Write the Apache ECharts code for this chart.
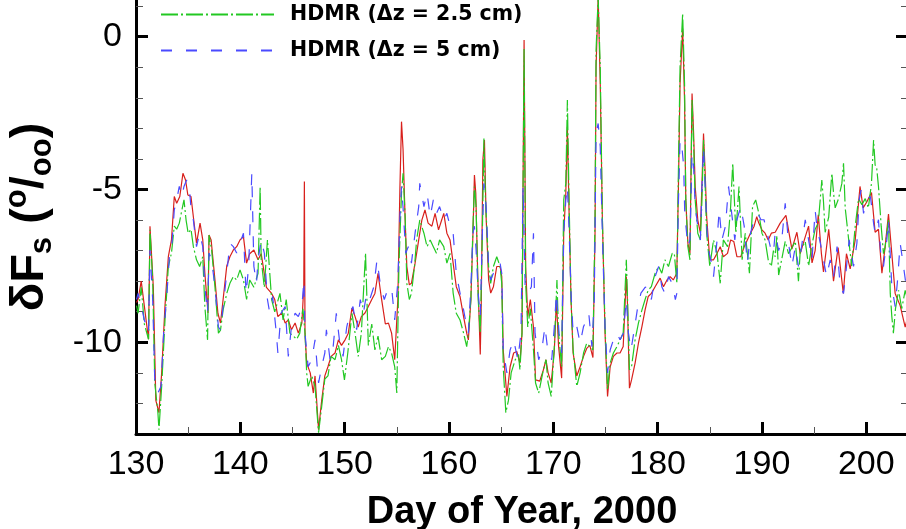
<!DOCTYPE html>
<html>
<head>
<meta charset="utf-8">
<script src="https://cdn.jsdelivr.net/npm/echarts@6/dist/echarts.min.js"></script>
<style>html,body{margin:0;padding:0;background:#fff;}#c{width:906px;height:529px;}</style>
</head>
<body>
<div id="c"></div>
<script>
// ---- data (day of year, delta Fs per mil) ----
const xTickLabels = [130, 140, 150, 160, 170, 180, 190, 200];
const yTickLabels = [-10, -5, 0];
const yMinorTicks = [-12, -11, -9, -8, -7, -6, -4, -3, -2, -1, 1];

const redDays = [130.05,130.2,130.5,131.2,131.34,131.66,131.9,132.2,132.46,132.78,133.1,133.4,133.67,133.9,134.2,134.5,134.75,134.97,135.27,135.5,135.8,136.14,136.4,136.6,136.9,137.0,137.2,137.57,137.85,138.1,138.35,138.7,139.0,139.33,139.65,139.97,140.3,140.6,140.9,141.3,141.7,142.0,142.5,143.0,143.3,143.6,143.97,144.3,144.6,144.9,145.25,145.56,145.9,146.08,146.14,146.2,146.36,146.7,147.0,147.16,147.5,147.8,148.1,148.4,148.7,149.08,149.4,149.7,150.04,150.35,150.7,151.0,151.3,151.6,151.95,152.27,152.6,152.9,153.2,153.5,153.9,154.2,154.5,154.8,155.1,155.3,155.45,155.6,155.8,155.96,156.2,156.4,156.75,157.1,157.4,157.7,158.0,158.36,158.67,159.0,159.3,159.5,159.8,160.1,160.4,160.7,161.06,161.4,161.7,161.86,162.1,162.3,162.44,162.57,162.76,163.0,163.1,163.25,163.4,163.56,163.8,164.0,164.26,164.58,164.9,165.06,165.2,165.55,165.86,166.2,166.5,166.8,167.0,167.2,167.35,167.55,167.8,168.1,168.3,168.7,169.05,169.3,169.5,169.8,170.1,170.3,170.5,170.8,171.0,171.2,171.35,171.5,171.7,171.9,172.25,172.57,172.9,173.2,173.5,173.8,174.0,174.1,174.3,174.5,174.7,174.96,175.2,175.45,175.76,176.1,176.4,176.7,177.0,177.1,177.3,177.5,177.84,178.16,178.5,178.8,179.1,179.4,179.76,180.24,180.56,180.9,181.2,181.5,181.84,182.0,182.15,182.4,182.58,182.7,182.9,183.1,183.3,183.45,183.6,183.85,184.1,184.25,184.4,184.56,184.7,185.0,185.36,185.7,186.0,186.3,186.7,187.0,187.3,187.6,187.97,188.3,188.6,188.9,189.25,189.5,189.7,190.0,190.3,190.6,190.9,191.27,191.75,192.3,192.87,193.35,193.67,194.15,194.47,194.8,195.1,195.4,195.7,195.9,196.4,196.86,197.3,197.8,198.1,198.46,198.94,199.4,199.7,200.06,200.5,200.85,201.17,201.5,201.8,202.13,202.45,202.77,203.25,203.73,203.95];
const redVals = [-8.7,-8.6,-8.0,-9.9,-6.2,-8.2,-11.9,-12.3,-11.0,-8.8,-7.2,-6.65,-5.23,-5.45,-5.23,-4.47,-4.69,-5.18,-5.23,-5.9,-6.76,-6.1,-6.65,-7.73,-9.04,-6.49,-6.65,-7.96,-9.05,-9.37,-8.6,-7.5,-7.2,-6.98,-6.87,-6.65,-6.54,-7.41,-7.1,-6.98,-7.3,-7.1,-8.2,-8.4,-8.6,-9.16,-9.04,-9.37,-9.27,-9.59,-9.37,-9.7,-9.37,-8.2,-4.74,-9.7,-10.68,-11.0,-11.66,-11.1,-12.86,-11.9,-11.1,-10.8,-10.46,-10.35,-9.92,-10.1,-9.92,-9.7,-8.88,-9.16,-9.5,-9.16,-9.04,-8.83,-8.6,-8.4,-7.74,-8.5,-9.4,-9.37,-9.7,-10.57,-8.6,-4.9,-2.78,-3.7,-6.0,-7.52,-8.12,-8.07,-7.41,-6.65,-6.0,-5.67,-6.1,-6.2,-5.78,-6.32,-6.0,-5.78,-6.43,-6.65,-7.41,-8.18,-8.5,-9.16,-9.7,-9.92,-8.6,-6.43,-4.53,-5.12,-7.85,-10.4,-8.6,-4.04,-3.38,-5.89,-7.96,-8.39,-8.18,-7.52,-7.52,-7.85,-10.25,-11.77,-10.8,-10.35,-10.3,-10.68,-9.7,-0.11,-7.52,-9.16,-8.6,-9.5,-11.23,-11.27,-10.9,-10.57,-11.0,-11.33,-10.25,-8.6,-10.1,-11.17,-6.43,-5.12,-2.95,-5.56,-8.6,-10.35,-11.1,-10.8,-10.46,-10.2,-10.1,-10.5,-6.43,-0.99,1.3,-1.53,-5.89,-9.7,-11.77,-10.8,-10.46,-10.35,-10.35,-10.14,-7.85,-8.6,-11.5,-11.23,-10.68,-10.03,-9.48,-8.94,-8.5,-8.4,-8.18,-7.9,-8.18,-7.96,-7.85,-7.96,-7.74,-4.8,-1.53,0.27,-2.07,-5.34,-6.76,-7.09,-1.86,-3.17,-4.9,-6.0,-6.43,-4.8,-3.17,-4.47,-5.89,-7.3,-7.3,-7.09,-6.87,-7.2,-7.09,-6.65,-6.7,-7.2,-7.2,-6.87,-6.65,-6.43,-6.2,-5.89,-6.1,-6.32,-6.43,-6.65,-6.43,-6.4,-6.1,-5.85,-6.95,-6.4,-7.1,-6.55,-6.2,-7.4,-7.0,-5.83,-7.1,-7.7,-6.3,-8.0,-6.9,-8.4,-7.1,-7.6,-6.65,-4.9,-5.6,-5.4,-5.1,-6.4,-6.3,-7.74,-6.9,-5.8,-7.1,-8.4,-8.8,-9.5,-9.2];

const greenDays = [130.05,130.2,130.5,130.8,131.2,131.34,131.6,131.8,132.1,132.2,132.46,132.78,133.1,133.4,133.67,133.9,134.15,134.4,134.6,134.8,135.0,135.27,135.5,135.8,136.1,136.4,136.6,136.86,137.0,137.25,137.57,137.9,138.1,138.35,138.7,139.0,139.33,139.65,139.97,140.3,140.6,140.9,141.3,141.7,141.9,142.0,142.3,142.6,143.0,143.3,143.8,144.1,144.4,144.75,145.1,145.4,145.7,146.0,146.2,146.36,146.5,146.85,147.16,147.5,147.8,148.1,148.4,148.7,149.08,149.4,149.7,149.98,150.3,150.7,151.0,151.3,151.6,152.0,152.27,152.6,152.9,153.2,153.55,153.9,154.2,154.5,154.8,155.0,155.2,155.45,155.6,155.8,155.96,156.2,156.4,156.7,156.9,157.2,157.6,157.9,158.2,158.5,158.8,159.1,159.5,159.8,160.1,160.4,160.7,161.06,161.4,161.7,161.86,162.1,162.3,162.44,162.6,162.8,163.0,163.2,163.35,163.5,163.8,164.0,164.26,164.58,164.9,165.06,165.2,165.45,165.7,165.96,166.35,166.66,166.8,167.0,167.2,167.35,167.55,167.8,168.1,168.3,168.6,169.05,169.3,169.5,169.8,170.1,170.35,170.5,170.8,171.0,171.2,171.35,171.5,171.7,171.9,172.25,172.57,172.9,173.2,173.5,173.8,174.0,174.1,174.3,174.5,174.7,174.96,175.2,175.45,175.76,176.1,176.4,176.7,177.0,177.1,177.3,177.5,177.84,178.16,178.5,178.8,179.1,179.4,179.76,180.1,180.4,180.7,181.04,181.4,181.6,181.84,182.0,182.15,182.4,182.58,182.7,182.9,183.1,183.3,183.45,183.6,183.85,184.1,184.25,184.4,184.56,184.7,185.0,185.36,185.7,186.0,186.3,186.7,187.0,187.2,187.5,187.8,188.1,188.4,188.8,189.1,189.4,189.7,190.0,190.3,190.6,190.9,191.1,191.27,191.43,191.6,192.23,192.55,193.2,193.5,193.67,194.15,194.47,194.8,195.1,195.4,195.74,195.9,196.06,196.4,196.7,196.86,197.02,197.34,197.66,197.82,197.98,198.3,198.6,198.94,199.26,199.58,199.9,200.2,200.5,200.7,200.85,201.0,201.17,201.43,201.65,201.8,202.13,202.3,202.45,202.6,202.8,203.1,203.4,203.73,203.95];
const greenVals = [-8.8,-9.05,-8.2,-9.4,-9.9,-6.32,-7.96,-11.33,-12.3,-12.86,-11.44,-9.27,-7.52,-7.08,-6.2,-6.3,-6.1,-5.67,-5.34,-6.0,-6.43,-6.3,-6.87,-7.3,-7.52,-7.2,-8.83,-9.92,-6.49,-6.98,-8.2,-9.7,-9.6,-8.94,-8.4,-8.07,-7.85,-7.96,-7.63,-7.96,-8.6,-7.96,-8.2,-7.74,-4.9,-7.3,-8.2,-6.65,-8.6,-9.0,-8.4,-9.27,-8.6,-9.7,-9.8,-9.9,-9.7,-8.9,-9.7,-11.0,-11.44,-11.1,-11.44,-12.96,-12.1,-11.2,-11.1,-10.46,-10.57,-10.1,-10.57,-11.23,-10.35,-9.05,-9.7,-10.46,-9.7,-7.08,-10.1,-9.4,-10.25,-9.8,-10.57,-10.46,-10.14,-10.35,-10.8,-11.66,-7.52,-5.12,-4.47,-5.9,-8.07,-8.6,-8.4,-7.5,-6.65,-6.0,-6.43,-6.87,-6.65,-6.87,-7.09,-6.65,-6.87,-7.41,-7.09,-8.39,-9.05,-9.27,-9.7,-10.14,-9.7,-8.6,-6.2,-4.9,-5.56,-8.6,-9.7,-6.43,-3.33,-5.34,-7.52,-8.07,-7.52,-7.2,-7.52,-8.07,-10.8,-12.3,-11.9,-11.0,-10.57,-10.4,-10.9,-9.7,-0.4,-8.07,-9.5,-8.9,-10.25,-11.33,-11.66,-10.9,-10.57,-11.33,-11.77,-10.14,-7.96,-9.7,-10.8,-5.34,-4.8,-2.07,-5.1,-8.6,-10.25,-11.44,-11.0,-10.35,-10.03,-10.14,-10.25,-5.9,-0.44,1.3,-0.99,-5.89,-9.5,-11.55,-10.68,-10.35,-10.14,-9.92,-9.7,-7.3,-8.4,-10.9,-10.8,-9.92,-9.37,-8.94,-8.6,-8.29,-8.18,-7.74,-7.52,-7.74,-7.3,-7.52,-7.09,-7.09,-8.07,-4.25,-0.99,0.76,-1.53,-5.34,-6.87,-7.3,-2.07,-3.5,-5.34,-6.43,-6.65,-5.34,-3.38,-4.9,-6.43,-7.52,-6.65,-7.09,-8.07,-6.65,-6.87,-5.56,-4.14,-6.43,-4.9,-7.3,-6.43,-7.74,-5.56,-5.34,-5.78,-6.43,-6.65,-7.3,-7.52,-7.0,-7.2,-6.5,-7.8,-6.7,-7.1,-6.7,-8.0,-7.0,-6.7,-7.5,-6.8,-6.3,-6.1,-4.69,-5.4,-6.4,-5.9,-4.47,-5.1,-5.6,-5.3,-4.8,-4.14,-5.6,-6.6,-7.5,-6.2,-5.3,-5.5,-5.3,-5.6,-4.8,-3.38,-4.2,-4.3,-4.9,-6.2,-7.1,-6.9,-6.0,-8.4,-9.16,-9.7,-8.9,-8.3,-8.9,-8.3,-8.6];

const blueDays = [130.05,130.2,130.5,130.8,131.2,131.34,131.6,131.8,132.1,132.4,132.65,132.97,133.2,133.4,133.67,133.9,134.15,134.4,134.6,134.85,135.1,135.27,135.5,135.8,136.1,136.4,136.6,136.86,137.0,137.25,137.57,137.9,138.1,138.35,138.7,139.0,139.33,139.65,139.97,140.3,140.55,140.8,141.1,141.3,141.55,141.7,142.0,142.3,142.6,142.8,143.1,143.45,143.6,143.9,144.3,144.6,144.9,145.25,145.56,145.9,146.1,146.2,146.5,146.85,147.16,147.5,147.8,148.1,148.25,148.6,148.9,149.2,149.5,149.85,150.2,150.5,150.8,151.15,151.5,151.8,152.1,152.4,152.8,153.1,153.45,153.8,154.1,154.5,154.8,155.1,155.3,155.45,155.6,155.86,156.1,156.4,156.75,157.1,157.2,157.6,157.9,158.2,158.5,158.8,159.1,159.5,159.8,160.1,160.4,160.7,161.06,161.4,161.7,161.86,162.1,162.3,162.44,162.6,162.8,163.0,163.2,163.35,163.56,163.8,164.0,164.26,164.58,164.9,165.06,165.2,165.55,165.86,166.2,166.6,166.9,167.1,167.3,167.6,167.9,168.1,168.25,168.6,168.9,169.2,169.5,169.85,170.1,170.3,170.55,170.8,171.0,171.2,171.35,171.5,171.7,171.9,172.25,172.57,172.9,173.2,173.4,173.7,173.93,174.1,174.3,174.5,174.7,174.96,175.2,175.45,175.76,176.1,176.4,176.7,177.0,177.2,177.45,177.8,178.1,178.4,178.8,179.1,179.4,179.76,180.1,180.4,180.7,181.04,181.4,181.7,181.84,182.0,182.15,182.3,182.5,182.6,182.9,183.1,183.3,183.45,183.6,183.85,184.1,184.25,184.4,184.56,184.8,185.1,185.36,185.7,185.9,186.16,186.5,186.8,187.1,187.4,187.6,187.97,188.3,188.6,188.9,189.25,189.6,189.9,190.2,190.5,190.8,191.1,191.27,191.6,191.9,192.23,192.55,192.87,193.2,193.5,193.8,194.15,194.47,194.8,195.1,195.26,195.6,195.9,196.2,196.54,196.86,197.2,197.5,197.82,198.04,198.36,198.78,199.1,199.32,199.5,199.74,200.06,200.4,200.7,200.85,201.17,201.43,201.65,201.97,202.13,202.45,202.77,203.0,203.25,203.57,203.83];
const blueVals = [-8.6,-8.4,-8.8,-9.27,-9.7,-6.98,-8.6,-11.23,-11.66,-11.44,-9.7,-8.4,-7.2,-7.0,-5.67,-5.34,-4.9,-5.23,-4.9,-4.69,-4.9,-5.6,-6.0,-6.87,-6.43,-6.87,-8.2,-9.05,-7.08,-7.3,-8.2,-9.5,-9.6,-8.83,-7.74,-6.76,-6.87,-7.08,-6.76,-6.43,-8.4,-7.52,-4.47,-7.52,-8.07,-7.3,-6.65,-7.08,-8.6,-9.0,-8.5,-9.7,-10.35,-9.05,-8.83,-10.46,-9.5,-9.05,-9.16,-8.83,-7.96,-9.7,-10.8,-10.57,-9.92,-11.33,-10.8,-10.35,-9.59,-10.57,-10.14,-9.05,-9.92,-10.46,-9.5,-9.05,-8.83,-9.59,-8.6,-9.05,-8.4,-8.6,-8.18,-7.3,-8.18,-8.6,-8.3,-8.2,-9.27,-8.0,-5.9,-4.9,-5.6,-7.09,-6.87,-7.41,-6.43,-5.56,-4.8,-5.56,-5.12,-5.89,-5.34,-5.78,-5.56,-6.0,-5.78,-6.2,-6.43,-7.74,-8.39,-8.94,-9.48,-9.7,-8.18,-6.43,-6.2,-6.98,-8.39,-9.16,-6.43,-4.8,-5.56,-7.52,-7.96,-7.74,-7.41,-7.41,-7.74,-10.25,-11.0,-10.25,-9.92,-10.57,-9.7,-4.9,-8.18,-8.4,-8.18,-6.43,-9.7,-10.57,-10.25,-9.48,-10.35,-10.57,-9.48,-8.39,-9.7,-10.35,-6.43,-5.34,-4.9,-6.2,-8.39,-9.7,-9.48,-10.03,-9.48,-9.27,-9.05,-10.14,-8.6,-3.17,-2.84,-3.6,-6.43,-9.5,-11.0,-10.25,-9.92,-9.7,-9.92,-9.7,-8.6,-9.7,-10.25,-9.5,-8.83,-8.39,-8.2,-8.18,-8.6,-7.85,-7.52,-8.18,-8.4,-7.85,-8.07,-8.6,-8.4,-5.34,-3.38,-3.5,-4.25,-5.78,-6.87,-6.65,-3.82,-4.25,-5.56,-6.2,-6.65,-4.9,-3.6,-4.9,-6.87,-7.3,-7.85,-6.65,-5.67,-6.65,-6.2,-4.9,-5.78,-6.65,-5.99,-5.56,-6.2,-7.41,-6.43,-5.99,-5.78,-5.99,-5.99,-6.43,-6.87,-7.09,-6.4,-7.0,-6.65,-5.45,-6.76,-7.52,-6.87,-7.52,-6.87,-5.99,-6.65,-7.3,-5.67,-6.2,-6.76,-7.3,-7.85,-7.3,-7.85,-6.87,-8.17,-8.4,-7.74,-6.65,-7.52,-6.76,-5.34,-5.02,-5.78,-5.34,-5.23,-6.1,-6.43,-5.99,-7.3,-7.52,-6.65,-5.99,-8.17,-8.83,-7.96,-6.76,-7.52,-8.17];

const nameRed = 'Measured';
const nameGreen = 'HDMR (\u0394z = 2.5 cm)';
const nameBlue = 'HDMR (\u0394z = 5 cm)';

function pairs(d, v) { return d.map((x, i) => [x, v[i]]); }

const chart = echarts.init(document.getElementById('c'), null, {renderer: 'canvas'});
const tickFont = 'Liberation Sans';
const yAxisBase = {
  type: 'value', min: -13, max: 1.2,
  splitLine: {show: false}
};
const option = {
  animation: false,
  backgroundColor: '#fff',
  grid: {left: 136, right: -2, top: 0, bottom: 95, containLabel: false, outerBoundsMode: 'none'},
  legend: {
    data: [nameGreen, nameBlue],
    orient: 'vertical', left: 160, top: 4, padding: 0,
    itemWidth: 113, itemHeight: 16, itemGap: 15,
    itemStyle: {opacity: 0},
    textStyle: {fontFamily: 'DejaVu Sans', fontWeight: 'bold', fontSize: 20.5, color: '#000', padding: [0, 0, 0, 11]}
  },
  xAxis: {
    type: 'value', min: 130, max: 204, interval: 10,
    axisLine: {onZero: false, lineStyle: {color: '#000', width: 3}},
    axisTick: {inside: true, length: 12, lineStyle: {color: '#000', width: 3}},
    minorTick: {show: true, splitNumber: 2, length: 7, lineStyle: {color: '#555', width: 1}},
    splitLine: {show: false},
    axisLabel: {fontFamily: tickFont, fontSize: 34, color: '#000', margin: 14, showMaxLabel: false,
      formatter: v => (xTickLabels.indexOf(v) >= 0 ? String(v) : '')},
    name: 'Day of Year, 2000', nameLocation: 'middle', nameGap: 60, nameMoveOverlap: false,
    nameTextStyle: {fontFamily: 'Liberation Sans', fontWeight: 'bold', fontSize: 38, color: '#000'}
  },
  yAxis: [
    Object.assign({}, yAxisBase, {
      position: 'left',
      axisLine: {onZero: false, lineStyle: {color: '#000', width: 3}},
      axisTick: {inside: true, length: 12, customValues: yTickLabels, lineStyle: {color: '#000', width: 3}},
      axisLabel: {fontFamily: tickFont, fontSize: 34, color: '#000', margin: 14, customValues: yTickLabels},
      name: '{m|\u03B4F}{sub|s}{m| (}{sup|o}{m|/}{sub|oo}{m|)}',
      nameLocation: 'middle', nameRotate: 90, nameGap: 78, nameMoveOverlap: false,
      nameTextStyle: {
        color: '#000',
        rich: {
          m: {fontFamily: 'Liberation Sans', fontWeight: 'bold', fontSize: 47, color: '#000', lineHeight: 56, verticalAlign: 'middle'},
          sub: {fontFamily: 'Liberation Sans', fontWeight: 'bold', fontSize: 31, color: '#000', lineHeight: 31, verticalAlign: 'bottom'},
          sup: {fontFamily: 'Liberation Sans', fontWeight: 'bold', fontSize: 31, color: '#000', lineHeight: 31, verticalAlign: 'top'}
        }
      }
    }),
    Object.assign({}, yAxisBase, {
      position: 'left',
      axisLine: {show: false},
      axisTick: {inside: true, length: 7, customValues: yMinorTicks, lineStyle: {color: '#555', width: 1}},
      axisLabel: {show: false}
    }),
    Object.assign({}, yAxisBase, {
      position: 'right',
      axisLine: {onZero: false, lineStyle: {color: '#000', width: 3}},
      axisTick: {inside: true, length: 12, customValues: yTickLabels, lineStyle: {color: '#000', width: 3}},
      axisLabel: {show: false}
    }),
    Object.assign({}, yAxisBase, {
      position: 'right',
      axisLine: {show: false},
      axisTick: {inside: true, length: 7, customValues: yMinorTicks, lineStyle: {color: '#555', width: 1}},
      axisLabel: {show: false}
    })
  ],
  series: [
    {name: nameRed, type: 'line', data: pairs(redDays, redVals), symbol: 'none', yAxisIndex: 0,
      lineStyle: {color: '#d8201c', width: 1.2}, itemStyle: {color: '#d8201c'}, z: 2},
    {name: nameGreen, type: 'line', data: pairs(greenDays, greenVals), symbol: 'none', yAxisIndex: 0,
      lineStyle: {color: '#22c822', width: 1.2, type: [17, 3, 2, 3]}, itemStyle: {color: '#22c822'}, z: 3},
    {name: nameBlue, type: 'line', data: pairs(blueDays, blueVals), symbol: 'none', yAxisIndex: 0,
      lineStyle: {color: '#4a4aff', width: 1.2, type: [11, 14]}, itemStyle: {color: '#4a4aff'}, z: 4}
  ]
};
chart.setOption(option);
</script>
</body>
</html>
